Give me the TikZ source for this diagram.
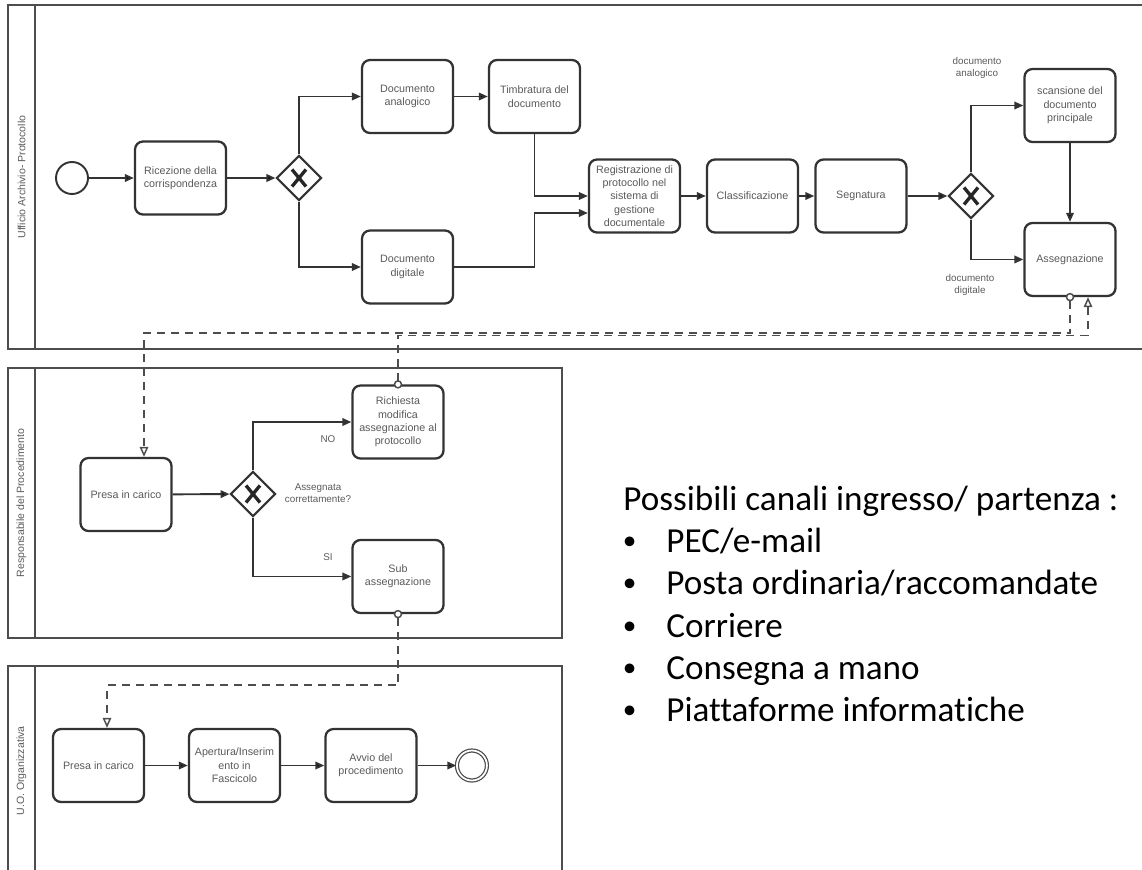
\documentclass[tikz,border=0pt]{standalone}
\usepackage{fontspec}
\setmainfont{Liberation Sans}
\newfontfamily\calibri[Ligatures=NoCommon]{Carlito}
\usetikzlibrary{arrows.meta,positioning,shapes.geometric}
\definecolor{linegray}{HTML}{333333}
\definecolor{textgray}{HTML}{5A5A5A}
\definecolor{lanegray}{HTML}{4D4D4D}
\newcommand{\puntino}{\makebox[0.9cm][l]{\hspace*{0.03cm}\raisebox{1.3pt}{\fontsize{15.5}{15.5}\selectfont\textbullet}}}
\tikzset{
  task/.style={draw=linegray, line width=1.3pt, rounded corners=0.16cm, fill=white,
    minimum width=1.82cm, minimum height=1.46cm, inner sep=1pt, align=center,
    text=textgray, font=\fontsize{6.1}{7.6}\selectfont},
  gate/.style={diamond, aspect=1, draw=linegray, line width=1.2pt, fill=white,
    minimum width=0.9cm, minimum height=0.9cm, inner sep=0pt,
    path picture={\draw[line width=1.9pt, black!85]
      ([shift={(-0.14cm,-0.17cm)}]path picture bounding box.center) -- ([shift={(0.14cm,0.17cm)}]path picture bounding box.center)
      ([shift={(-0.14cm,0.17cm)}]path picture bounding box.center) -- ([shift={(0.14cm,-0.17cm)}]path picture bounding box.center);}},
  startev/.style={circle, draw=linegray, line width=1.1pt, minimum size=0.64cm, inner sep=0pt},
  endev/.style={circle, draw=lanegray, double, double distance=1pt, line width=0.7pt, minimum size=0.6cm, inner sep=0pt},
  lane/.style={draw=lanegray, line width=1.1pt},
  lanelabel/.style={rotate=90, text=textgray, font=\fontsize{6}{7}\selectfont},
  lbl/.style={align=center, text=textgray, font=\fontsize{5.6}{6.8}\selectfont},
  flow/.style={draw=linegray, line width=1.1pt},
  msg/.style={draw=lanegray, line width=0.85pt, dash pattern=on 0.16cm off 0.12cm,
    {Circle[length=0.17cm,fill=white]}-{Triangle[open,length=0.2cm,width=0.17cm]}, shorten <=-0.085cm},
  canal/.style={anchor=base west, inner sep=0pt, font=\calibri\fontsize{20}{24}\selectfont}
}
\begin{document}
\begin{tikzpicture}[x=0.02cm,y=-0.02cm,on grid,>={Triangle[length=0.18cm,width=0.15cm]}]
\useasboundingbox (0,0) rectangle (1142,869);
\clip (0,0) rectangle (1142,869);

\draw[lane] (8,5) rectangle (1150,349) (35,5) -- (35,349);
\draw[lane] (8,368) rectangle (562,638) (35,368) -- (35,638);
\draw[lane] (8,666) rectangle (562,880) (35,666) -- (35,880);
\node[lanelabel] (l1) at (21.5,177) {Ufficio Archivio- Protocollo};
\node[lanelabel] (l2) at (21.5,503) {Responsabile del Procedimento};
\node[lanelabel] (l3) at (21.5,771) {U.O. Organizzativa};

\node[startev] (S) at (72,178) {};
\node[task] (ric) at (180.5,178) {Ricezione della\\corrispondenza};
\node[gate] (G1) at (299,178) {};
\node[task] (ana) at (407.5,96.5) {Documento\\analogico};
\node[task] (tim) [right=2.54cm of ana] {Timbratura del\\documento};
\node[task] (dig) at (407.5,267) {Documento\\digitale};
\node[task] (reg) at (634.5,196) {Registrazione di\\protocollo nel\\sistema di\\gestione\\documentale};
\node[task] (cla) [right=2.36cm of reg] {Classificazione};
\node[task] (seg) [right=2.17cm of cla] {Segnatura};
\node[gate] (G2) at (971,196) {};
\node[task] (scan) at (1070,105.5) {scansione del\\documento\\principale};
\node[task] (asg) [below=3.08cm of scan] {Assegnazione};
\node[lbl] (lana) at (977,68) {documento\\analogico};
\node[lbl] (ldig) at (970,285) {documento\\digitale};

\node[task] (P1) at (126,494.5) {Presa in carico};
\node[gate] (G3) at (253,494) {};
\node[task] (rich) at (398,422) {Richiesta\\modifica\\assegnazione al\\protocollo};
\node[task] (sub) [below=3.09cm of rich] {Sub\\assegnazione};
\node[lbl] (lno) at (328,439) {NO};
\node[lbl] (lsi) at (328,557) {SI};
\node[lbl] (lq) at (318,493) {Assegnata\\correttamente?};

\node[task] (P2) at (98.5,765.5) {Presa in carico};
\node[task] (ape) [right=2.72cm of P2] {Apertura/Inserim\\ento in\\Fascicolo};
\node[task] (avv) [right=2.73cm of ape] {Avvio del\\procedimento};
\node[endev] (E) [right=2.02cm of avv] {};

\path[flow,->]
  (S) edge (ric)
  (ric) edge (G1)
  (ana) edge (tim)
  (reg) edge (cla)
  (cla) edge (seg)
  (seg) edge (G2)
  (scan) edge (asg)
  (P1) edge (G3)
  (P2) edge (ape)
  (ape) edge (avv)
  (avv) edge (E);
\draw[flow,->] (G1) |- (ana);
\draw[flow,->] (G1) |- (dig);
\draw[flow,->] (tim) |- (reg);
\draw[flow,->] (dig) -- (dig -| tim) |- ([yshift=-0.34cm]reg.west);
\draw[flow,->] (G2) |- (scan);
\draw[flow,->] (G2) |- (asg);
\draw[flow,->] (G3) |- (rich);
\draw[flow,->] (G3) |- (sub);

\draw[msg] (asg.south) -- ++(0,36) -| ([xshift=0.36cm]P1.north);
\draw[msg] (rich.north) -- ++(0,-49) -| ([xshift=0.36cm]asg.south);
\draw[msg] (sub.south) -- ++(0,71) -| ([xshift=0.17cm]P2.north);

\node[canal] (c0) at (623,510) {Possibili canali ingresso/ partenza :};
\node[canal] (c1) at (621,552) {\puntino PEC/e-mail};
\node[canal] (c2) at (621,594) {\puntino Posta ordinaria/raccomandate};
\node[canal] (c3) at (621,637) {\puntino Corriere};
\node[canal] (c4) at (621,679) {\puntino Consegna a mano};
\node[canal] (c5) at (621,721) {\puntino Piattaforme informatiche};
\end{tikzpicture}
\end{document}
